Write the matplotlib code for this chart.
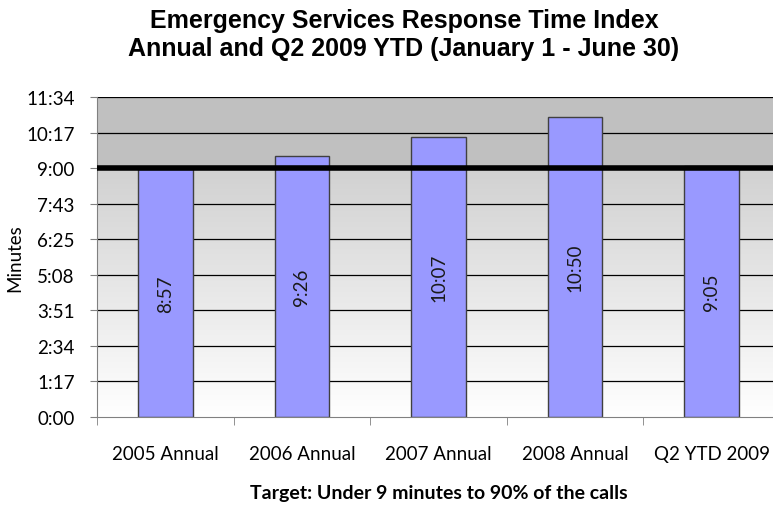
"""
Emergency services response time index, annual and Q2 2009 YTD.
"""

import numpy as np
import matplotlib.pyplot as plt
from matplotlib.colors import LinearSegmentedColormap


categories = ["2005 Annual", "2006 Annual", "2007 Annual", "2008 Annual", "Q2 YTD 2009"]
# response times in seconds
response_seconds = [537, 566, 607, 650, 545]
bar_labels = ["8:57", "9:26", "10:07", "10:50", "9:05"]
target_seconds = 540
y_max_seconds = 694.3
y_tick_labels = ["0:00", "1:17", "2:34", "3:51", "5:08", "6:25", "7:43", "9:00", "10:17", "11:34"]

title = "Emergency Services Response Time Index\nAnnual and Q2 2009 YTD (January 1 - June 30)"
x_title = "Target: Under 9 minutes to 90% of the calls"
y_title = "Minutes"


def main():
    label_font = "Lato"
    fig = plt.figure(figsize=(7.73, 5.06), dpi=100)
    ax = fig.add_axes([97 / 773, 88 / 506, 683 / 773, 320 / 506])

    x = np.arange(len(categories))
    ax.set_xlim(-0.5, len(categories) - 0.5)
    ax.set_ylim(0, y_max_seconds)

    # gradient background: white at the bottom to grey at the top
    cmap = LinearSegmentedColormap.from_list("bg", ["#ffffff", "#c4c4c4"])
    gradient = np.linspace(0, 1, 256).reshape(-1, 1)
    ax.imshow(gradient, aspect="auto", cmap=cmap, origin="lower",
              extent=[-0.5, len(categories) - 0.5, 0, y_max_seconds], zorder=0)
    ax.axhspan(target_seconds, y_max_seconds, color="#c0c0c0", zorder=0.5)

    y_ticks = [i * target_seconds / 7 for i in range(len(y_tick_labels))]
    for tick in y_ticks[1:]:
        ax.axhline(tick, color="black", linewidth=0.9, zorder=1)

    ax.bar(x, response_seconds, width=0.4, color="#9999ff",
           edgecolor="#404040", linewidth=1.0, zorder=2)
    for xi, value, text in zip(x, response_seconds, bar_labels):
        ax.text(xi, value / 2, text, rotation=90, ha="center", va="center",
                fontsize=13.5, family=label_font, color="#1a1a1a", zorder=3)

    ax.axhline(target_seconds, xmin=0.003, color="black", linewidth=4.0, zorder=4)

    ax.set_yticks(y_ticks)
    ax.set_yticklabels(y_tick_labels, fontsize=13.5, family=label_font)
    ax.set_xticks(x)
    ax.set_xticklabels(categories, fontsize=13.5, family=label_font)
    ax.tick_params(axis="x", length=0, pad=20)
    ax.set_xticks(np.arange(-0.5, len(categories), 1.0), minor=True)
    ax.tick_params(axis="x", which="minor", length=6, color="#808080")
    ax.tick_params(axis="y", length=5, color="#808080", pad=11)

    for side in ["top", "right"]:
        ax.spines[side].set_visible(False)
    ax.spines["left"].set_color("#808080")
    ax.spines["bottom"].set_color("#808080")

    ax.set_ylabel(y_title, fontsize=13.5, family=label_font, labelpad=2)
    ax.set_xlabel(x_title, fontsize=14, family=label_font, fontweight="bold", labelpad=16)

    fig.text(404 / 773, 1 - 35 / 506, title, ha="center", va="center",
             fontsize=18, fontweight="bold", family="Liberation Sans", linespacing=1.2)

    fig.savefig("out.png", dpi=100)
    plt.close(fig)


if __name__ == "__main__":
    main()
